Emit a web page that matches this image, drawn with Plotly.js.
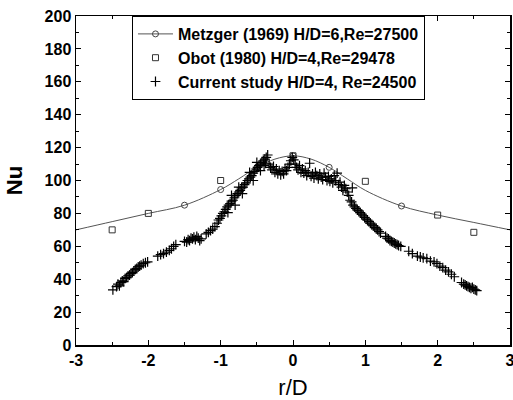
<!DOCTYPE html>
<html>
<head>
<meta charset="utf-8">
<script src="https://cdn.plot.ly/plotly-3.0.1.min.js"></script>
<style>html,body{margin:0;padding:0;background:#fff;}#chart{width:513px;height:400px;}</style>
</head>
<body>
<div id="chart"></div>
<script>
// Metzger (1969) curve
const metzgerX = [-3, -2.5, -2, -1.5, -1, -0.75, -0.5, -0.25, 0, 0.25, 0.5, 0.75, 1, 1.5, 2, 2.5, 3];
const metzgerY = [70, 75, 80, 85, 94.5, 101, 108, 113, 115, 113, 108, 101, 94, 84.5, 79, 74.5, 70];
// Metzger marker points
const metzgerMX = [-1.5, -1, -0.5, 0, 0.5, 1.5];
const metzgerMY = [85, 94.5, 108, 115, 108, 84.5];
// Obot (1980)
const obotX = [-2.5, -2, -1, 0, 1, 2, 2.5];
const obotY = [70, 80, 100, 115, 99.5, 79, 68.5];
// Current study
const curX = [
 -2.49,-2.44,-2.42,-2.40,-2.38,-2.36,-2.34,-2.32,-2.30,-2.28,-2.26,-2.24,-2.22,-2.20,-2.18,-2.16,-2.14,-2.12,-2.10,-2.07,-2.04,-2.01,
 -1.87,-1.83,-1.79,-1.75,-1.71,-1.68,-1.65,-1.62,
 -1.50,-1.47,-1.45,-1.43,-1.41,-1.39,-1.37,-1.35,-1.33,-1.31,-1.29,-1.27,
 -1.20,-1.17,-1.14,-1.11,-1.08,
 -1.05,-1.03,-1.01,-0.99,-0.97,-0.95,-0.93,-0.91,-0.89,-0.87,-0.85,-0.83,-0.81,-0.79,-0.77,-0.75,-0.73,-0.71,-0.69,-0.67,-0.65,-0.63,-0.61,-0.59,-0.57,-0.55,-0.53,-0.51,-0.49,-0.47,-0.45,-0.43,-0.41,-0.39,-0.37,-0.35,
 -0.90,-0.85,-0.80,-0.75,-0.70,-0.60,-0.55,-0.50,-0.45,-0.40,-0.38,
 -0.33,-0.31,-0.29,-0.27,-0.25,-0.23,-0.21,-0.19,-0.17,-0.15,-0.13,-0.11,-0.09,-0.07,-0.05,-0.03,-0.01,0.01,0.03,0.05,0.07,0.09,0.11,0.13,0.15,0.17,0.19,0.21,0.23,0.25,0.27,0.29,
 0.31,0.33,0.35,0.37,0.39,0.41,0.43,0.45,0.47,0.49,0.51,0.53,0.55,0.57,0.59,0.61,0.63,0.65,0.67,0.69,0.71,0.73,0.75,0.82,0.77,
 0.79,0.81,0.83,0.85,0.87,0.89,0.91,0.93,0.95,0.97,0.99,1.01,1.03,1.05,1.07,1.09,1.11,1.13,1.15,1.17,1.19,1.21,
 1.28,1.30,1.32,1.34,1.36,1.38,1.40,1.42,1.44,1.46,1.49,
 1.60,1.65,1.72,1.76,1.80,1.85,1.90,1.95,1.99,2.03,2.07,2.11,2.15,2.19,2.23,
 2.33,2.36,2.38,2.40,2.42,2.44,2.46,2.48,2.50,2.52,2.54
];
const curY = [
 33.5,35.5,37,36,38,39,38.5,40.5,41,42,42.5,43.5,44,45,46,46.5,47.5,48,48.5,49.5,50,50.5,
 54,55,55.5,56.5,57.5,58.5,60,61,
 63,62.5,64,63.5,65,64.5,65.5,64,66,65,63.5,64.5,
 67.5,68.5,69.5,70.5,72,
 74,76,77,78.5,80,81,82.5,84,85,86,87.5,88,89.5,91,92,93,94,95.5,96,97.5,98.5,100,101,102,103,104.5,105.5,107,108,109,110,111,112,113,114,115.5,
 80.5,91,85,96,92,105,100,111,106,109,110.5,
 110,108,106.5,108.5,105,107,104,106,103.5,105.5,104,107,106,108,110,112,114,112.5,110,108,106.5,109,105,107,104.5,106,103,105,110.5,102.5,104,101.5,
 105,103,101,104,102,100.5,104.5,102,100,102.5,99.5,101,98.5,103,100,104.5,97.5,99,96,94,97,95,93,95.5,91,
 88,87,85,84,83,82,81.5,80.5,79.5,78.5,77.5,76.5,76,75,74,73,72.5,71.5,71,70,69,68,
 66,65,64.5,63.5,63,62.5,62,61.5,61,60.5,60,
 57,55.5,54,53.5,53,52.5,51,50.5,49.5,48,47,45.5,44.5,43,41.5,
 38,37,36.5,36,35.5,35,34.5,35,34,33.5,33
];
const xTicks = [-3, -2, -1, 0, 1, 2, 3];
const yTicks = [0, 20, 40, 60, 80, 100, 120, 140, 160, 180, 200];

const FONT = 'Liberation Sans, Arial, sans-serif';
const traces = [
  {x: metzgerX, y: metzgerY, mode: 'lines', line: {color: '#555', width: 1, shape: 'spline'}, showlegend: false, hoverinfo: 'skip'},
  {x: metzgerMX, y: metzgerMY, mode: 'markers', marker: {symbol: 'circle-open', size: 6, color: '#444', line: {width: 1}}, showlegend: false},
  {x: [null], y: [null], mode: 'lines+markers', name: 'Metzger (1969) H/D=6,Re=27500',
   line: {color: '#555', width: 1}, marker: {symbol: 'circle-open', size: 6, color: '#444', line: {width: 1}}},
  {x: obotX, y: obotY, mode: 'markers', name: 'Obot (1980) H/D=4,Re=29478',
   marker: {symbol: 'square-open', size: 6, color: '#333', line: {width: 1}}},
  {x: curX, y: curY, mode: 'markers', name: 'Current study H/D=4, Re=24500',
   marker: {symbol: 'cross-thin-open', size: 7, color: '#000', line: {width: 1.2, color: '#000'}}}
];
const axisCommon = {
  showline: true, linecolor: '#000', linewidth: 1.5, mirror: 'allticks',
  ticks: 'inside', ticklen: 5, tickcolor: '#000', tickwidth: 1,
  showgrid: false, zeroline: false, ticklabeloverflow: 'allow',
  tickfont: {family: FONT, size: 16, color: '#000', weight: 'bold'}
};
const layout = {
  width: 513, height: 400,
  margin: {l: 76, r: 3, t: 16, b: 55},
  paper_bgcolor: '#fff', plot_bgcolor: '#fff',
  font: {family: FONT, color: '#000'},
  xaxis: Object.assign({}, axisCommon, {
    range: [-3, 3], tickvals: xTicks, ticktext: xTicks.map(String),
    minor: {dtick: 0.5, ticks: 'inside', ticklen: 3, tickcolor: '#000'},
    title: {text: 'r/D', font: {family: FONT, size: 22, color: '#000'}, standoff: 14}
  }),
  yaxis: Object.assign({}, axisCommon, {
    range: [0, 200], tickvals: yTicks, ticktext: yTicks.map(String),
    minor: {dtick: 10, ticks: 'inside', ticklen: 3, tickcolor: '#000'},
    title: {text: 'Nu', font: {family: FONT, size: 22, color: '#000', weight: 'bold'}, standoff: 16}
  }),
  legend: {
    x: 0.129, y: 1, xanchor: 'left', yanchor: 'top',
    bgcolor: '#fff', bordercolor: '#000', borderwidth: 1,
    font: {family: FONT, size: 16, color: '#000', weight: 'bold'},
    tracegroupgap: 0, itemwidth: 35
  },
  showlegend: true
};
Plotly.newPlot('chart', traces, layout, {displayModeBar: false, staticPlot: true});
</script>
</body>
</html>
